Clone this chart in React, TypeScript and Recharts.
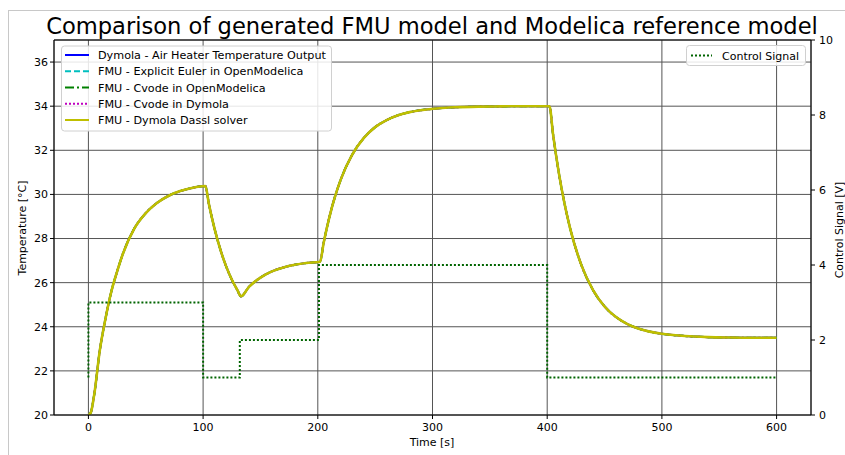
import React from 'react';
import { LineChart, Line, XAxis, YAxis, CartesianGrid, ReferenceLine } from 'recharts';

// time axis [s] for the temperature curves
const tempTime = [
  0, 2, 5, 10, 15, 20, 25, 30, 40, 50, 60, 70, 80, 90, 102, 105, 110, 115, 120, 125, 130, 133,
  140, 150, 160, 170, 180, 190, 202, 205, 210, 215, 220, 230, 240, 250, 260, 270, 280, 300, 320,
  340, 360, 380, 402, 405, 410, 415, 420, 430, 440, 450, 460, 470, 480, 500, 520, 540, 560, 580, 600,
];

// air heater temperature [°C] (all solvers overlap)
const tempValues = [
  20.0, 20.1, 20.9, 22.95, 24.4, 25.6, 26.5, 27.3, 28.45, 29.15, 29.62, 29.94, 30.15, 30.29, 30.38,
  29.58, 28.44, 27.51, 26.75, 26.14, 25.65, 25.38, 25.81, 26.23, 26.51, 26.69, 26.81, 26.89, 26.95,
  27.78, 28.95, 29.9, 30.67, 31.8, 32.55, 33.05, 33.37, 33.59, 33.73, 33.88, 33.95, 33.98, 33.99,
  34.0, 34.0, 32.77, 31.02, 29.61, 28.46, 26.77, 25.66, 24.92, 24.44, 24.12, 23.91, 23.68, 23.58,
  23.53, 23.51, 23.5, 23.5,
];

// control signal [V], step shaped
const ctrlTime = [0, 0, 100, 100, 132, 132, 201, 201, 400, 400, 600];
const ctrlValues = [1, 3, 3, 1, 1, 2, 2, 4, 4, 1, 1];

const xTicks = [0, 100, 200, 300, 400, 500, 600];
const leftTicks = [20, 22, 24, 26, 28, 30, 32, 34, 36];
const rightTicks = [0, 2, 4, 6, 8, 10];

const series = [
  { key: 'dymola', name: 'Dymola - Air Heater Temperature Output', color: '#0000ff', dash: undefined, width: 2 },
  { key: 'euler', name: 'FMU - Explicit Euler in OpenModelica', color: '#00bfbf', dash: '6 3', width: 2 },
  { key: 'cvodeOM', name: 'FMU - Cvode in OpenModelica', color: '#008000', dash: '9 3 2 3', width: 2 },
  { key: 'cvodeDy', name: 'FMU - Cvode in Dymola', color: '#bf00bf', dash: '2 2', width: 2 },
  { key: 'dassl', name: 'FMU - Dymola Dassl solver', color: '#bfbf00', dash: undefined, width: 2.6 },
];

const tempRows = tempTime.map((t, i) => ({
  t,
  dymola: tempValues[i],
  euler: tempValues[i],
  cvodeOM: tempValues[i],
  cvodeDy: tempValues[i],
  dassl: tempValues[i],
}));

const ctrlRows = ctrlTime.map((t, i) => ({ t, ctrl: ctrlValues[i] }));

const font = '"DejaVu Sans", sans-serif';
const tickStyle = { fill: '#000', fontSize: 11, fontFamily: font };

export default function App() {
  return (
    <div style={{ position: 'fixed', left: 0, top: 0, width: 845, height: 455, background: '#fff' }}>
      <div style={{ position: 'absolute', left: 8, top: 10, width: 837, height: 445, borderLeft: '1px solid #c8c8c8', borderTop: '1px solid #c8c8c8' }} />
      <div style={{ position: 'absolute', left: 0, top: 0 }}>
        <LineChart width={845} height={455} margin={{ top: 40, right: 4, bottom: 10, left: 14 }}>
          <CartesianGrid yAxisId="left" stroke="#555" strokeWidth={1} />
          <XAxis
            dataKey="t"
            type="number"
            domain={[-30, 630]}
            ticks={xTicks}
            interval={0}
            height={30}
            tickSize={4}
            tickMargin={4}
            stroke="#000"
            tick={tickStyle}
            allowDataOverflow
          />
          <YAxis
            yAxisId="left"
            type="number"
            domain={[20, 37]}
            ticks={leftTicks}
            interval={0}
            width={40}
            tickSize={4}
            tickMargin={2}
            stroke="#000"
            tick={tickStyle}
            allowDataOverflow
          />
          <YAxis
            yAxisId="right"
            orientation="right"
            type="number"
            domain={[0, 10]}
            ticks={rightTicks}
            interval={0}
            width={30}
            tickSize={4}
            tickMargin={4}
            stroke="#000"
            tick={tickStyle}
            allowDataOverflow
          />
          <ReferenceLine yAxisId="left" y={37} stroke="#000" strokeWidth={1} />
          {series.map((s) => (
            <Line
              key={s.key}
              yAxisId="left"
              data={tempRows}
              dataKey={s.key}
              type="monotone"
              stroke={s.color}
              strokeWidth={s.width}
              strokeDasharray={s.dash}
              dot={false}
              activeDot={false}
              isAnimationActive={false}
            />
          ))}
          <Line
            yAxisId="right"
            data={ctrlRows}
            dataKey="ctrl"
            type="linear"
            stroke="#006400"
            strokeWidth={2}
            strokeDasharray="2 2"
            dot={false}
            activeDot={false}
            isAnimationActive={false}
          />
        </LineChart>
      </div>
      <svg width={845} height={455} style={{ position: 'absolute', left: 0, top: 0, pointerEvents: 'none' }} fontFamily={font}>
        <text x={432} y={34} textAnchor="middle" fontSize={22.6} fill="#000">
          Comparison of generated FMU model and Modelica reference model
        </text>
        <text x={432} y={446} textAnchor="middle" fontSize={11} fill="#000">Time [s]</text>
        <text transform="translate(26,228) rotate(-90)" textAnchor="middle" fontSize={11} fill="#000">
          Temperature [°C]
        </text>
        <text transform="translate(843,230) rotate(-90)" textAnchor="middle" fontSize={11} fill="#000">
          Control Signal [V]
        </text>

        <rect x={61.5} y={46} width={270} height={85} rx={3} fill="#fff" fillOpacity={0.85} stroke="#d0d0d0" />
        {series.map((s, i) => {
          const y = 55 + i * 16.25;
          return (
            <g key={s.key}>
              <line x1={65} x2={89} y1={y} y2={y} stroke={s.color} strokeWidth={2} strokeDasharray={s.dash} />
              <text x={98} y={y + 4} fontSize={11.2} fill="#000">{s.name}</text>
            </g>
          );
        })}

        <rect x={686.5} y={45.5} width={119} height={20} rx={3} fill="#fff" fillOpacity={0.85} stroke="#d0d0d0" />
        <line x1={691} x2={712} y1={55.5} y2={55.5} stroke="#006400" strokeWidth={2} strokeDasharray="2 2" />
        <text x={722} y={59.5} fontSize={11} fill="#000">Control Signal</text>
      </svg>
    </div>
  );
}
